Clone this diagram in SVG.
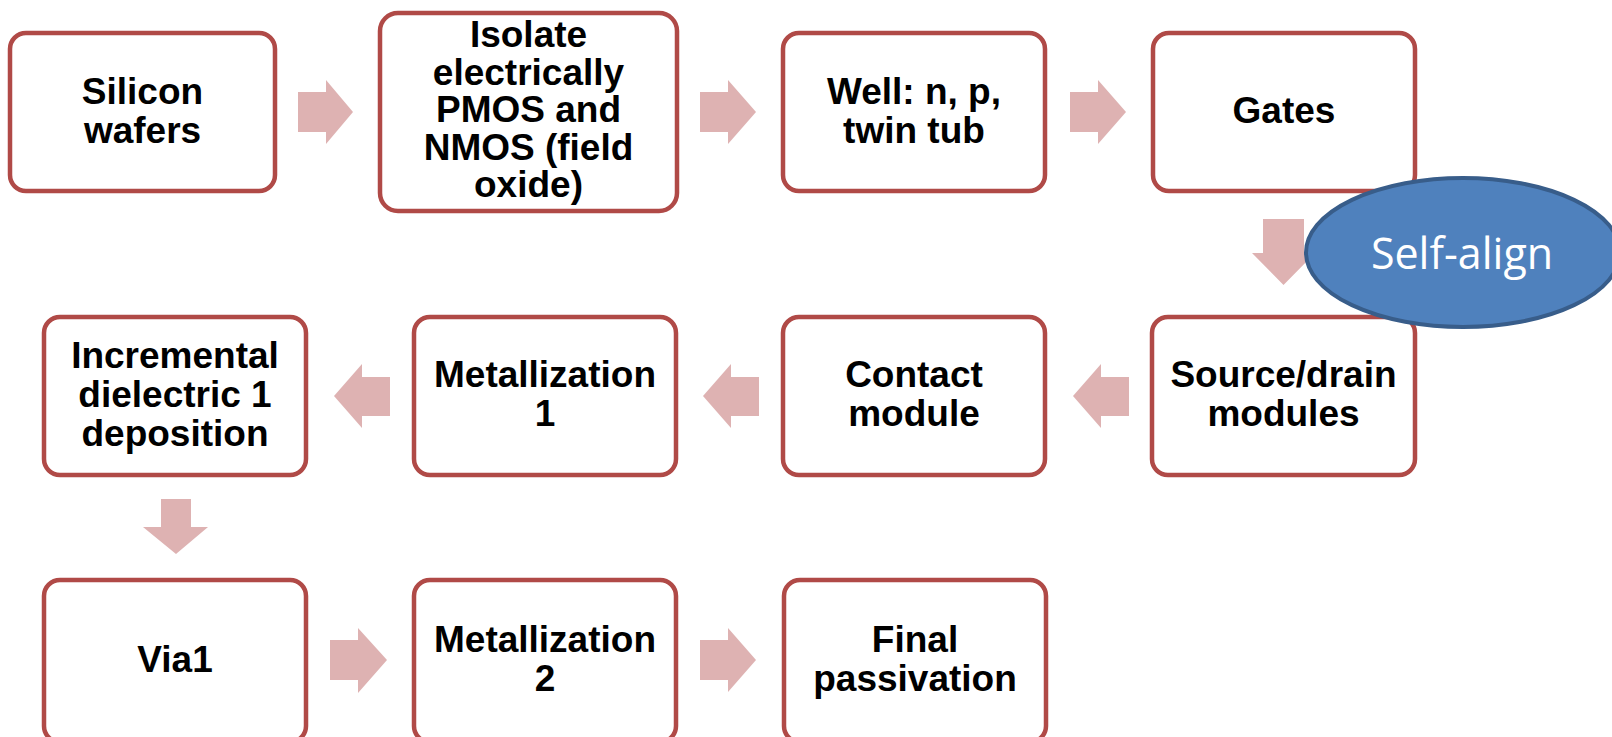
<svg xmlns="http://www.w3.org/2000/svg" width="1612" height="737" viewBox="0 0 1612 737">
<style>
.box{fill:#FFFFFF;stroke:#B04A47;stroke-width:4.5}
.arr{fill:#DEB2B2;stroke:none}
.t{font-family:"Liberation Sans",Arial,sans-serif;font-weight:bold;font-size:37px;fill:#000000;text-anchor:middle}
.ell{fill:#4F81BD;stroke:#385D8A;stroke-width:4}
.et{font-family:"Open Sans","Noto Sans",sans-serif;font-size:43px;fill:#FFFFFF;text-anchor:middle}
</style>
<rect width="1612" height="737" fill="#FFFFFF"/>
<g id="connectors">
<polygon class="arr" points="298,92 326,92 326,80 353,112 326,144 326,132 298,132"/>
<polygon class="arr" points="700,92 728,92 728,80 756,112 728,144 728,132 700,132"/>
<polygon class="arr" points="1070,92 1098,92 1098,80 1126,112 1098,144 1098,132 1070,132"/>
<polygon class="arr" points="1263,219 1304,219 1304,253 1315,253 1283.5,285 1252,253 1263,253"/>
<polygon class="arr" points="1129,377 1101,377 1101,364 1073,396 1101,428 1101,416 1129,416"/>
<polygon class="arr" points="759,377 731,377 731,364 703,396 731,428 731,416 759,416"/>
<polygon class="arr" points="390,377 362,377 362,364 334,396 362,428 362,416 390,416"/>
<polygon class="arr" points="161,499 191,499 191,527 208,527 176,554 143,527 161,527"/>
<polygon class="arr" points="330,640 358,640 358,628 387,660 358,693 358,680 330,680"/>
<polygon class="arr" points="700,640 728,640 728,628 756,660 728,692 728,680 700,680"/>
</g>
<g id="n1"><rect class="box" x="10" y="33" width="265" height="158" rx="16"/>
<text class="t" x="142.5" y="104">Silicon</text><text class="t" x="142.5" y="143">wafers</text></g>
<g id="n2"><rect class="box" x="380" y="13" width="297" height="198" rx="18"/>
<text class="t" x="528.5" y="47">Isolate</text><text class="t" x="528.5" y="84.5">electrically</text><text class="t" x="528.5" y="122">PMOS and</text><text class="t" x="528.5" y="159.5">NMOS (field</text><text class="t" x="528.5" y="197">oxide)</text></g>
<g id="n3"><rect class="box" x="783" y="33" width="262" height="158" rx="16"/>
<text class="t" x="914" y="104">Well: n, p,</text><text class="t" x="914" y="143">twin tub</text></g>
<g id="n4"><rect class="box" x="1153" y="33" width="262" height="158" rx="16"/>
<text class="t" x="1284" y="122.5">Gates</text></g>
<g id="n5"><rect class="box" x="1152" y="317" width="263" height="158" rx="16"/>
<text class="t" x="1283.5" y="387">Source/drain</text><text class="t" x="1283.5" y="426">modules</text></g>
<g id="n6"><rect class="box" x="783" y="317" width="262" height="158" rx="16"/>
<text class="t" x="914" y="387">Contact</text><text class="t" x="914" y="426">module</text></g>
<g id="n7"><rect class="box" x="414" y="317" width="262" height="158" rx="16"/>
<text class="t" x="545" y="387">Metallization</text><text class="t" x="545" y="426">1</text></g>
<g id="n8"><rect class="box" x="44" y="317" width="262" height="158" rx="16"/>
<text class="t" x="175" y="368">Incremental</text><text class="t" x="175" y="407">dielectric 1</text><text class="t" x="175" y="446">deposition</text></g>
<g id="n9"><rect class="box" x="44" y="580" width="262" height="162" rx="16"/>
<text class="t" x="175" y="672">Via1</text></g>
<g id="n10"><rect class="box" x="414" y="580" width="262" height="162" rx="16"/>
<text class="t" x="545" y="652">Metallization</text><text class="t" x="545" y="691">2</text></g>
<g id="n11"><rect class="box" x="784" y="580" width="262" height="162" rx="16"/>
<text class="t" x="915" y="652">Final</text><text class="t" x="915" y="691">passivation</text></g>
<g id="selfalign"><ellipse class="ell" cx="1463" cy="252.5" rx="157" ry="74.5"/>
<text class="et" x="1462" y="269">Self-align</text></g>
</svg>
